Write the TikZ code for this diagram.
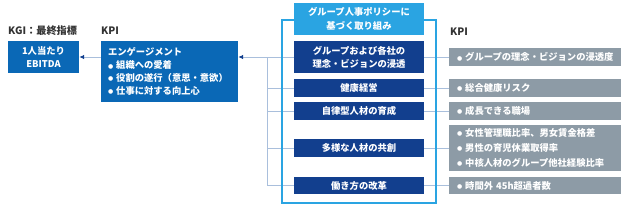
\documentclass[tikz,border=0pt]{standalone}
\usepackage{fontspec}
\setmainfont{Noto Sans CJK JP}
\newfontfamily\dvfont{DejaVu Sans}
\usetikzlibrary{arrows.meta,backgrounds}
\definecolor{midblue}{HTML}{0A68B6}
\definecolor{navyblue}{HTML}{123F8E}
\definecolor{cyanblue}{HTML}{2AA4E2}
\definecolor{graybox}{HTML}{8D9BA6}
\definecolor{linecol}{HTML}{A9BFDC}
\definecolor{labelcol}{HTML}{333333}
\newcommand\bul{{\dvfont\fontsize{6}{6}\selectfont\raisebox{0.6pt}{●}}\hspace{3pt}}
\begin{document}
\begin{tikzpicture}[x=1pt,y=-1pt,
  every node/.style={font=\fontsize{9.3}{13}\selectfont\bfseries},
  bluebox/.style={fill=midblue,text=white,inner sep=0pt,align=center},
  navybox/.style={fill=navyblue,text=white,inner sep=0pt,align=center,minimum width=130pt},
  graybx/.style={fill=graybox,text=white,inner ysep=0pt,inner xsep=8pt,text width=156pt,align=left},
  lbl/.style={text=labelcol,inner sep=0pt,anchor=west,font=\fontsize{10.2}{12}\selectfont\bfseries},
  conn/.style={draw=linecol,line width=0.9pt},
  arr/.style={conn,-{Latex[length=5pt,width=4.5pt,color=navyblue]}}
]
\useasboundingbox (0,0) rectangle (628,210);
% labels
\node[lbl] (kgilbl) at (8,31) {KGI：最終指標};
\node[lbl] (kpilbl) at (101,31) {KPI};
\node[lbl] (kpilbl2) at (450,32) {KPI};
% left boxes
\node[bluebox,minimum width=71pt,minimum height=32pt] (kgi) at (43.5,57) {1人当たり\\EBITDA};
\node[bluebox,minimum height=61pt,text width=123pt,inner xsep=7pt,align=left,font=\fontsize{9.3}{12.8}\selectfont\bfseries] (kpi) at (169.5,71.5)
  {エンゲージメント\\\bul 組織への愛着\\\bul 役割の遂行（意思・意欲）\\\bul 仕事に対する向上心};
% frame
\draw[cyanblue,line width=1.1pt] (282,20) rectangle (436,203);
\node[fill=cyanblue,text=white,inner sep=0pt,align=center,minimum width=130pt,minimum height=32pt,font=\fontsize{9.3}{14}\selectfont\bfseries] (hdr) at (359,19) {グループ人事ポリシーに\\基づく取り組み};
% navy boxes
\node[navybox,minimum height=32pt] (d1) at (359,57) {グループおよび各社の\\理念・ビジョンの浸透};
\node[navybox,minimum height=18pt] (d2) at (359,88) {健康経営};
\node[navybox,minimum height=18pt] (d3) at (359,111) {自律型人材の育成};
\node[navybox,minimum height=18pt] (d4) at (359,148) {多様な人材の共創};
\node[navybox,minimum height=17.5pt] (d5) at (359,185.5) {働き方の改革};
% gray boxes
\node[graybx,minimum height=18pt] (g1) at (535,57) {\mbox{\bul グループの理念・ビジョンの浸透度}};
\node[graybx,minimum height=18pt] (g2) at (535,88) {\bul 総合健康リスク};
\node[graybx,minimum height=18pt] (g3) at (535,111) {\bul 成長できる職場};
\node[graybx,minimum height=46pt,font=\fontsize{9.3}{15}\selectfont\bfseries] (g4) at (535,148) {\bul 女性管理職比率、男女賃金格差\\\bul 男性の育児休業取得率\\\mbox{\bul 中核人材のグループ他社経験比率}};
\node[graybx,minimum height=17.5pt] (g5) at (535,185.5) {\bul 時間外 45h超過者数};
% bus
\coordinate (bus) at (267,0);
\begin{scope}[on background layer]
\draw[conn] (d1.west -| bus) -- (d5.west -| bus);
\foreach \i in {1,...,5}{
  \draw[conn] (d\i.west) -- (d\i.west -| bus);
  \draw[conn] (d\i.east) -- (g\i.west);
}
\draw[arr] (d1.west -| bus) -- (d1.west -| kpi.east);
\draw[arr] (kpi.west |- kgi) -- (kgi.east);
\end{scope}
\end{tikzpicture}
\end{document}
